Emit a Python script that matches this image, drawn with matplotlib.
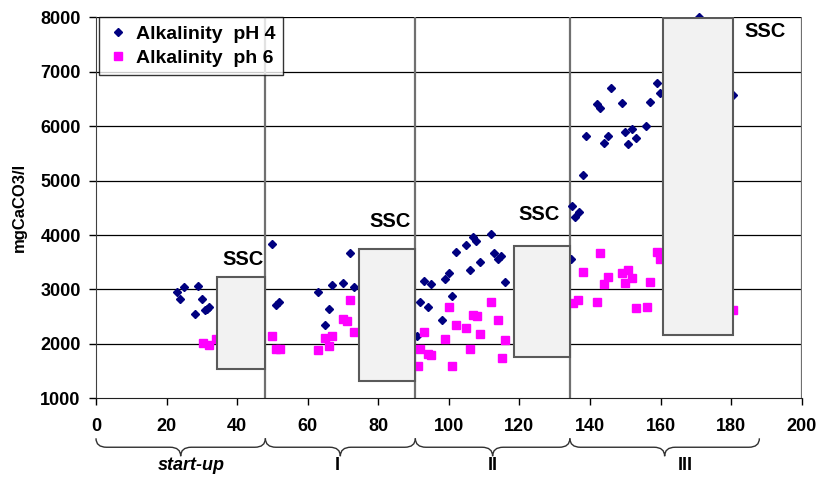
import matplotlib
matplotlib.use('Agg')
import matplotlib.pyplot as plt
from matplotlib.path import Path
from matplotlib.patches import PathPatch, Rectangle
import matplotlib.transforms as mtransforms

plt.rcParams['font.family'] = ['Liberation Sans', 'DejaVu Sans']
plt.rcParams['font.weight'] = 'bold'

# Alkalinity pH 4 (diamonds)
dias_ph4 = [22.9, 23.9, 25.0, 28.0, 29.0, 30.0, 30.8, 31.4, 31.9,
            49.9, 50.9, 52.0, 62.9, 65.0, 66.0, 67.0, 70.0, 71.9, 73.0,
            91.0, 91.7, 93.0, 94.1, 95.0, 98.0, 98.9, 100.0, 101.0, 101.9,
            104.9, 106.0, 106.9, 107.8, 108.9, 111.9, 112.9, 114.0, 114.9,
            116.0, 134.7,
            134.9, 135.8, 137.0, 137.9, 139.0, 141.9, 142.9, 143.9, 145.0,
            146.0, 149.0, 149.9, 150.9, 152.0, 152.9, 156.0, 157.0, 159.0,
            159.8, 171.0, 180.5]
alc_ph4 = [2958, 2824, 3050, 2549, 3063, 2830, 2622, 2646, 2672,
           3829, 2714, 2769, 2959, 2347, 2641, 3082, 3124, 3670, 3045,
           2150, 2763, 3155, 2677, 3100, 2439, 3186, 3308, 2880, 3682,
           3811, 3357, 3969, 3890, 3499, 4019, 3664, 3553, 3614,
           3131, 3559,
           4539, 4337, 4423, 5102, 5813, 6401, 6339, 5696, 5819,
           6695, 6420, 5893, 5667, 5948, 5782, 6008, 6449, 6798,
           6604, 8000, 6570]

# Alkalinity pH 6 (squares)
dias_ph6 = [30.4, 31.9, 34.0,
            50.0, 50.9, 52.1, 63.0, 65.0, 66.0, 67.0, 70.0, 71.0, 71.9, 73.0,
            91.3, 91.7, 93.0, 94.1, 95.0, 99.0, 100.0, 100.8, 101.9, 104.9,
            105.9, 106.9, 108.0, 108.9, 111.9, 113.9, 115.0, 116.0,
            135.3, 136.6, 137.9, 142.0, 142.9, 143.9, 145.0, 149.0, 149.9,
            150.9, 152.0, 153.0, 156.1, 157.0, 158.9, 159.7, 180.5]
alc_ph6 = [2010, 1979, 2084,
           2150, 1906, 1906, 1887, 2114, 1955, 2145, 2451, 2420, 2800, 2224,
           1599, 1910, 2212, 1814, 1801, 2084, 2672, 1599, 2352, 2292,
           1911, 2530, 2512, 2181, 2769, 2439, 1747, 2066,
           2757, 2797, 3326, 2769, 3670, 3100, 3223, 3296, 3113,
           3357, 3205, 2653, 2683, 3131, 3682, 3559, 2620]

# fases do reator
fases = ['start-up', 'I', 'II', 'III']
fase_ini = [0, 48, 90.5, 134.3]
fase_fim = [48, 90.5, 134.3, 188]
fase_txt_x = [27, 68.5, 112.5, 167]

# caixas SSC: x inicial, x final, y min, y max
ssc_x0 = [34.4, 74.6, 118.5, 160.6]
ssc_x1 = [47.8, 90.3, 134.3, 180.6]
ssc_ymin = [1544, 1312, 1764, 2157]
ssc_ymax = [3234, 3737, 3804, 7981]
ssc_txt_x = [47.4, 89.2, 131.3, 195.5]
ssc_txt_y = [3550, 4243, 4382, 7748]

fig = plt.figure(figsize=(8.19, 4.79), dpi=100)
ax = fig.add_axes([0.1172, 0.1685, 0.8617, 0.7954])

ax.set_xlim(0, 200)
ax.set_ylim(1000, 8000)
ax.set_xticks(range(0, 201, 20))
ax.set_yticks(range(1000, 8001, 1000))
ax.tick_params(axis='x', direction='out', length=5, width=1, pad=9, labelsize=13)
ax.tick_params(axis='y', direction='out', length=5, width=1, pad=6, labelsize=13)
for s in ['top', 'right']:
    ax.spines[s].set_visible(False)
ax.spines['left'].set_color('#404040')
ax.spines['bottom'].set_color('#202020')

# grade horizontal
for v in range(2000, 8001, 1000):
    ax.axhline(v, color='black', lw=0.9, zorder=1)
# linhas verticais das fases + borda direita
for xb in fase_ini[1:] + [200]:
    ax.axvline(xb, color='#707070', lw=1.6, zorder=1)

ax.plot(dias_ph4, alc_ph4, 'D', color='#000080', ms=4.3, mec='#000080',
        label='Alkalinity  pH 4', zorder=3, clip_on=False)
ax.plot(dias_ph6, alc_ph6, 's', color='#FF00FF', ms=5.2, mec='#FF00FF',
        label='Alkalinity  ph 6', zorder=3, clip_on=False)

for i in range(len(ssc_x0)):
    r = Rectangle((ssc_x0[i], ssc_ymin[i]), ssc_x1[i] - ssc_x0[i],
                  ssc_ymax[i] - ssc_ymin[i], facecolor='#f2f2f2',
                  edgecolor='#5a5a5a', lw=1.5, zorder=4)
    ax.add_patch(r)
    ax.text(ssc_txt_x[i], ssc_txt_y[i], 'SSC', ha='right', va='center',
            fontsize=14.5, fontweight='bold', zorder=5)

ax.set_ylabel('mgCaCO3/l', fontsize=12, fontweight='bold', labelpad=10)

leg = ax.legend(loc='upper left', bbox_to_anchor=(0.004, 1.0), fontsize=14,
                frameon=True, fancybox=False, edgecolor='black',
                handlelength=1.2, handletextpad=0.3, labelspacing=0.35,
                borderpad=0.4, borderaxespad=0)
leg.get_frame().set_linewidth(1.0)
leg.set_zorder(6)

# chaves embaixo do eixo x
trans = mtransforms.blended_transform_factory(ax.transData, ax.transAxes)
yt, yb = -0.105, -0.152
ym = (yt + yb) / 2
for i in range(len(fases)):
    x0, x1 = fase_ini[i], fase_fim[i]
    xm = (x0 + x1) / 2
    d = 3
    verts = [(x0, yt), (x0, ym), (x0 + d, ym), (xm - d, ym), (xm, ym), (xm, yb),
             (xm, ym), (xm + d, ym), (x1 - d, ym), (x1, ym), (x1, yt)]
    codes = [Path.MOVETO, Path.CURVE3, Path.CURVE3, Path.LINETO, Path.CURVE3,
             Path.CURVE3, Path.CURVE3, Path.CURVE3, Path.LINETO, Path.CURVE3,
             Path.CURVE3]
    ax.add_patch(PathPatch(Path(verts, codes), fill=False, lw=1.0,
                           edgecolor='#303030', transform=trans, clip_on=False))
    ax.text(fase_txt_x[i], -0.177, fases[i], transform=trans, ha='center',
            va='center', fontsize=13, fontweight='bold',
            style='italic' if i == 0 else 'normal')

fig.savefig('out.png', dpi=100)
